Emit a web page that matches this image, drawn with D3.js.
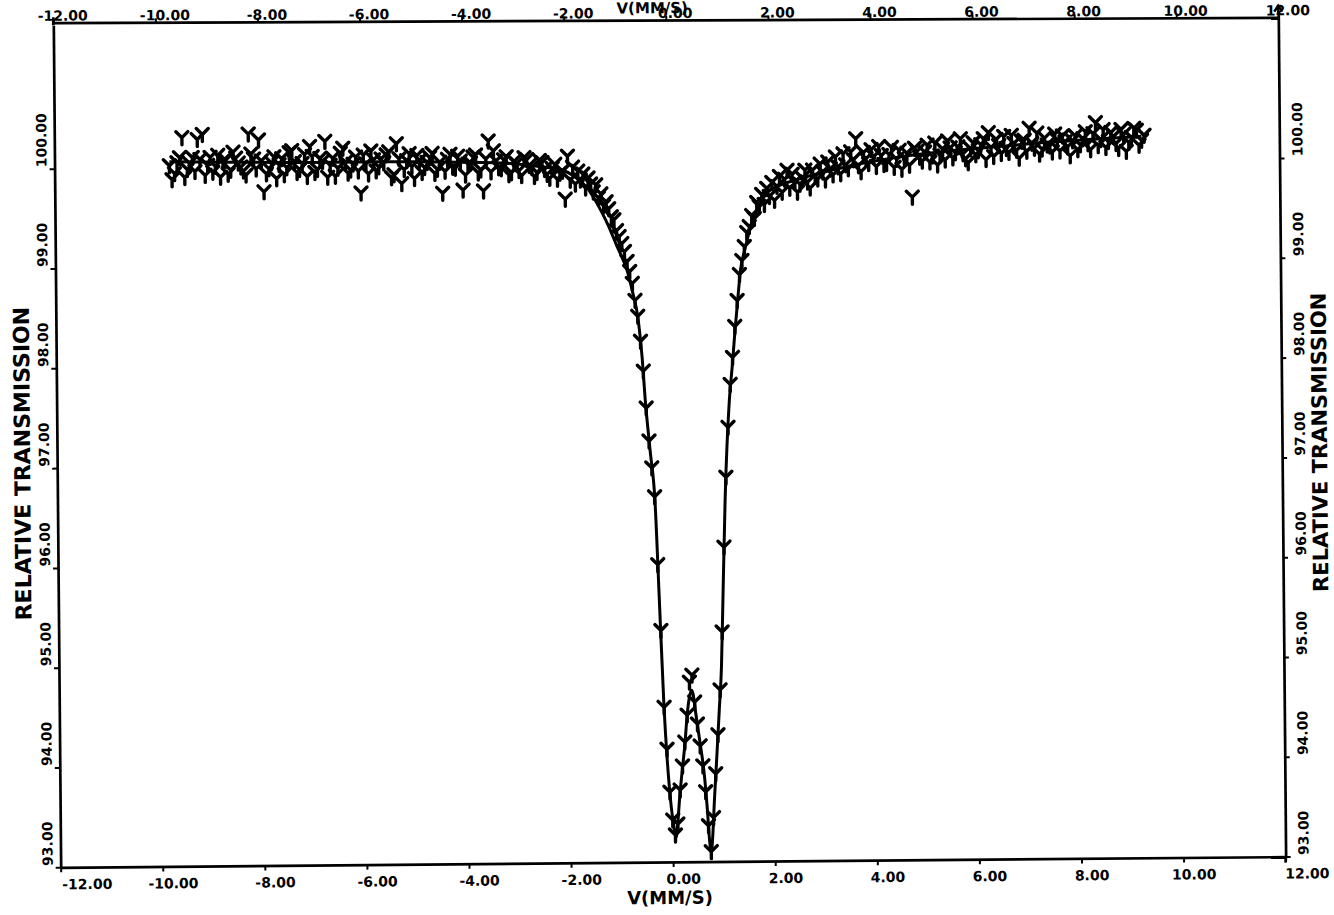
<!DOCTYPE html>
<html>
<head>
<meta charset="utf-8">
<script src="https://cdn.jsdelivr.net/npm/d3@7"></script>
<style>
body { margin: 0; background: #fff; }
text { font-family: 'DejaVu Sans', sans-serif; font-weight: bold; }
</style>
</head>
<body>
<div id="chart"></div>
<script>
// measured points, left baseline
var leftWingV = [-9.75,-9.70,-9.65,-9.60,-9.55,-9.50,-9.45,-9.40,-9.35,-9.30,
  -9.25,-9.20,-9.15,-9.10,-9.05,-9.00,-8.95,-8.90,-8.85,-8.80,
  -8.75,-8.70,-8.65,-8.60,-8.55,-8.50,-8.45,-8.40,-8.35,-8.30,
  -8.25,-8.20,-8.15,-8.10,-8.05,-8.00,-7.95,-7.90,-7.85,-7.80,
  -7.75,-7.70,-7.65,-7.60,-7.55,-7.50,-7.45,-7.40,-7.35,-7.30,
  -7.25,-7.20,-7.15,-7.10,-7.05,-7.00,-6.95,-6.90,-6.85,-6.80,
  -6.75,-6.70,-6.65,-6.60,-6.55,-6.50,-6.45,-6.40,-6.35,-6.30,
  -6.25,-6.20,-6.15,-6.10,-6.05,-6.00,-5.95,-5.90,-5.85,-5.80,
  -5.75,-5.70,-5.65,-5.60,-5.55,-5.50,-5.45,-5.40,-5.35,-5.30,
  -5.25,-5.20,-5.15,-5.10,-5.05,-5.00,-4.95,-4.90,-4.85,-4.80,
  -4.75,-4.70,-4.65,-4.60,-4.55,-4.50,-4.45,-4.40,-4.35,-4.30,
  -4.25,-4.20,-4.15,-4.10,-4.05,-4.00,-3.95,-3.90,-3.85,-3.80,
  -3.75,-3.70,-3.65,-3.60,-3.55,-3.50,-3.45,-3.40,-3.35,-3.30,
  -3.25,-3.20,-3.15,-3.10,-3.05,-3.00,-2.95,-2.90,-2.85,-2.80,
  -2.75,-2.70,-2.65,-2.60,-2.55,-2.50,-2.45,-2.40,-2.35,-2.30,
  -2.25,-2.20,-2.15,-2.10,-2.05];
var leftWingT = [100.02,99.88,99.94,100.05,100.10,100.30,99.90,99.98,100.04,100.10,
  99.96,100.28,100.08,100.33,99.92,100.02,100.10,99.95,100.01,100.12,
  99.90,100.06,100.07,99.93,99.97,100.15,100.09,100.04,100.00,99.96,
  99.92,100.33,100.13,100.08,99.98,100.27,100.06,99.75,99.93,99.98,
  100.04,100.10,99.88,100.02,100.08,99.92,99.99,100.14,100.16,100.05,
  99.94,99.97,100.03,100.12,99.90,100.20,100.10,99.94,99.97,100.08,
  100.05,100.25,99.89,100.01,100.08,99.90,99.98,100.13,100.18,100.04,
  99.93,99.96,100.02,100.09,99.95,99.73,100.11,100.02,99.92,100.15,
  100.06,99.95,99.99,100.07,100.03,100.11,100.14,99.88,99.91,100.22,
  100.07,99.82,99.96,100.05,100.12,99.99,99.87,100.10,100.05,99.93,
  99.98,100.03,100.08,100.12,99.92,99.96,100.03,99.72,99.94,100.06,
  100.11,99.98,99.97,100.09,100.04,99.75,99.90,100.01,100.02,100.08,
  100.10,99.92,99.95,99.74,100.06,100.24,99.93,100.14,100.04,99.97,
  99.96,100.05,100.08,99.90,99.92,100.03,100.01,99.94,99.89,100.07,
  100.05,99.99,99.97,99.88,99.92,100.04,100.02,99.95,99.90,99.86,
  99.96,100.00,99.85,99.91,99.93];

// measured points, doublet region
var dipV = [-2.00,-1.95,-1.90,-1.85,-1.80,-1.75,-1.70,-1.65,-1.60,-1.55,
  -1.50,-1.45,-1.40,-1.35,-1.30,-1.25,-1.20,-1.15,-1.10,-1.05,
  -1.00,-0.95,-0.90,-0.85,-0.80,-0.75,-0.70,-0.65,-0.60,-0.55,
  -0.50,-0.45,-0.40,-0.35,-0.30,-0.25,-0.20,-0.15,-0.10,-0.05,
  0.00,0.05,0.10,0.15,0.20,0.25,0.30,0.35,0.40,0.45,
  0.50,0.55,0.60,0.65,0.70,0.75,0.80,0.85,0.90,0.95,
  1.00,1.05,1.10,1.15,1.20,1.25,1.30,1.35,1.40,1.45,
  1.50,1.55,1.60,1.65,1.70,1.75,1.80,1.85,1.90,1.95,
  2.00,2.05,2.10,2.15,2.20,2.25,2.30,2.35,2.40,2.45,2.50];
var dipT = [99.65,100.08,99.84,99.97,99.80,99.93,99.84,99.90,99.76,99.86,
  99.80,99.72,99.79,99.66,99.70,99.58,99.62,99.55,99.47,99.44,
  99.33,99.27,99.20,99.12,99.02,98.92,98.80,98.63,98.47,98.22,
  97.92,97.55,97.22,96.95,96.66,95.98,95.32,94.55,94.13,93.70,
  93.42,93.27,93.38,93.72,93.96,94.20,94.47,94.80,94.87,94.60,
  94.38,94.16,93.96,93.70,93.36,93.10,93.44,93.88,94.27,94.72,
  95.30,96.15,96.85,97.35,97.78,98.05,98.36,98.62,98.88,99.02,
  99.16,99.30,99.36,99.47,99.44,99.60,99.56,99.68,99.58,99.74,
  99.66,99.80,99.62,99.76,99.86,99.70,99.83,99.92,99.74,99.88,99.80];

// measured points, right baseline
var rightWingV = [2.55,2.60,2.65,2.70,2.75,2.80,2.85,2.90,2.95,3.00,
  3.05,3.10,3.15,3.20,3.25,3.30,3.35,3.40,3.45,3.50,
  3.55,3.60,3.65,3.70,3.75,3.80,3.85,3.90,3.95,4.00,
  4.05,4.10,4.15,4.20,4.25,4.30,4.35,4.40,4.45,4.50,
  4.55,4.60,4.65,4.70,4.75,4.80,4.85,4.90,4.95,5.00,
  5.05,5.10,5.15,5.20,5.25,5.30,5.35,5.40,5.45,5.50,
  5.55,5.60,5.65,5.70,5.75,5.80,5.85,5.90,5.95,6.00,
  6.05,6.10,6.15,6.20,6.25,6.30,6.35,6.40,6.45,6.50,
  6.55,6.60,6.65,6.70,6.75,6.80,6.85,6.90,6.95,7.00,
  7.05,7.10,7.15,7.20,7.25,7.30,7.35,7.40,7.45,7.50,
  7.55,7.60,7.65,7.70,7.75,7.80,7.85,7.90,7.95,8.00,
  8.05,8.10,8.15,8.20,8.25,8.30,8.35,8.40,8.45,8.50,
  8.55,8.60,8.65,8.70,8.75,8.80,8.85,8.90,8.95,9.00,
  9.05,9.10,9.15,9.20,9.25,9.30,9.35];
var rightWingT = [99.70,99.78,99.84,99.92,99.80,99.74,99.92,99.86,99.83,99.98,
  99.90,99.82,100.00,99.93,99.87,100.05,99.95,99.88,100.08,99.97,
  99.93,100.10,100.02,100.23,99.96,99.90,100.09,100.03,99.98,100.12,
  100.05,99.95,100.15,100.06,99.97,99.98,100.07,100.14,99.94,100.02,
  100.11,99.92,100.03,100.08,99.96,99.64,100.13,100.10,100.04,100.00,
  100.09,100.16,99.99,100.05,100.18,99.96,100.06,100.12,100.01,100.20,
  100.13,100.03,100.08,100.14,100.22,100.07,100.02,99.98,100.12,100.18,
  100.06,100.10,100.16,100.22,100.01,100.28,100.13,100.04,100.21,100.15,
  100.07,100.24,100.12,100.08,100.25,100.17,100.10,100.02,100.19,100.20,
  100.09,100.32,100.17,100.12,100.27,100.06,100.11,100.22,100.15,100.14,
  100.08,100.26,100.20,100.09,100.24,100.18,100.13,100.04,100.19,100.24,
  100.10,100.15,100.21,100.28,100.16,100.10,100.26,100.37,100.14,100.20,
  100.30,100.12,100.18,100.27,100.23,100.16,100.11,100.30,100.25,100.08,
  100.17,100.22,100.31,100.29,100.14,100.19,100.24];

// fitted curve
var fitV = [-9.75,-8.5,-7.0,-5.5,-4.0,-3.0,-2.5,-2.0,-1.75,-1.55,-1.45,-1.30,-1.15,-1.00,-0.88,-0.80,
  -0.70,-0.59,-0.52,-0.47,-0.38,-0.295,-0.225,-0.157,-0.04,0.02,0.065,0.10,0.135,0.19,0.245,0.31,
  0.36,0.39,0.42,0.46,0.54,0.63,0.68,0.72,0.75,0.78,0.82,0.87,0.93,0.98,1.02,1.08,1.18,1.24,
  1.30,1.36,1.42,1.52,1.62,1.78,1.96,2.2,2.5,3.0,3.6,4.5,5.5,6.5,7.5,8.5,9.3];
var fitT = [100.06,100.05,100.04,100.04,100.03,100.01,99.98,99.93,99.85,99.75,99.67,99.53,99.37,99.18,99.04,98.93,
  98.72,98.43,98.05,97.65,97.12,96.63,95.62,94.62,93.62,93.36,93.25,93.40,93.62,93.90,94.15,94.52,
  94.68,94.72,94.68,94.52,94.22,93.85,93.52,93.20,93.09,93.25,93.62,94.02,94.52,94.95,95.62,96.62,97.62,97.95,
  98.30,98.62,98.92,99.15,99.35,99.55,99.70,99.77,99.82,99.89,99.96,100.04,100.10,100.14,100.18,100.21,100.23];

var xTicks = [-12,-10,-8,-6,-4,-2,0,2,4,6,8,10,12];
var yTicks = [93,94,95,96,97,98,99,100];

var width = 1334, height = 915;
var plotLeft = 57, plotRight = 1282, plotTop = 20, plotBottom = 862;
var pxPerUnit = 99.8;

var svg = d3.select('#chart').append('svg')
    .attr('width', width)
    .attr('height', height);

// the scanned plot is slightly tilted
var plot = svg.append('g').attr('transform', 'rotate(-0.5,667,445)');

var x = d3.scaleLinear().domain([-12, 12]).range([plotLeft, plotRight]);
var y = d3.scaleLinear()
    .domain([93, 93 + (plotBottom - plotTop) / pxPerUnit])
    .range([plotBottom, plotTop]);

var fmt = d => d.toFixed(2);

function styleAxis(g) {
    g.attr('font-family', "'DejaVu Sans', sans-serif")
     .attr('font-size', 14)
     .attr('font-weight', 'bold');
    g.select('.domain').attr('stroke', '#000').attr('stroke-width', 2.7);
    g.selectAll('.tick line').attr('stroke', '#000').attr('stroke-width', 2);
    g.selectAll('.tick text').attr('fill', '#000');
}

var bottomAxis = plot.append('g')
    .attr('transform', `translate(0,${plotBottom})`)
    .call(d3.axisBottom(x).tickValues(xTicks).tickFormat(fmt).tickSize(5).tickSizeOuter(0));
styleAxis(bottomAxis);
bottomAxis.selectAll('.tick text')
    .attr('y', 22).attr('dy', null)
    .attr('dx', d => d == -12 ? 26 : d == 12 ? 21 : 10);

// top edge of the paper sits a little less tilted
var topAxis = plot.append('g')
    .attr('transform', `translate(0,${plotTop}) rotate(0.25,667,0)`)
    .call(d3.axisTop(x).tickValues(xTicks).tickFormat(fmt).tickSize(4).tickSizeOuter(0));
styleAxis(topAxis);
topAxis.selectAll('.tick text')
    .attr('y', -2).attr('dy', null).attr('dx', 9);

var leftAxis = plot.append('g')
    .attr('transform', `translate(${plotLeft},0)`)
    .call(d3.axisLeft(y).tickValues(yTicks).tickFormat(fmt).tickSize(5).tickSizeOuter(0));
styleAxis(leftAxis);
leftAxis.selectAll('.tick text')
    .attr('x', 0).attr('dy', null)
    .attr('text-anchor', 'start')
    .attr('transform', 'translate(-8,-2) rotate(-90)');

var rightAxis = plot.append('g')
    .attr('transform', `translate(${plotRight},0)`)
    .call(d3.axisRight(y).tickValues(yTicks).tickFormat(fmt).tickSize(5).tickSizeOuter(0));
styleAxis(rightAxis);
rightAxis.selectAll('.tick text')
    .attr('x', 0).attr('dy', null)
    .attr('text-anchor', 'start')
    .attr('transform', 'translate(23,-2) rotate(-90)');

// small pen overshoots at the corners
plot.append('line').attr('x1', plotLeft).attr('x2', plotLeft).attr('y1', plotTop - 8).attr('y2', plotTop)
    .attr('stroke', '#000').attr('stroke-width', 2.7);
plot.append('line').attr('x1', plotRight).attr('x2', plotRight).attr('y1', plotTop - 8).attr('y2', plotTop)
    .attr('stroke', '#000').attr('stroke-width', 2.7);
plot.append('path').attr('d', `M${plotRight - 4},${plotTop - 3}L${plotRight},${plotTop - 9}L${plotRight + 4},${plotTop - 3}`)
    .attr('fill', 'none').attr('stroke', '#000').attr('stroke-width', 2.5);
plot.append('line').attr('x1', plotRight).attr('x2', plotRight).attr('y1', plotBottom).attr('y2', plotBottom + 6)
    .attr('stroke', '#000').attr('stroke-width', 2.7);

// axis titles
plot.append('text').attr('x', 656).attr('y', 13).attr('text-anchor', 'middle')
    .attr('font-size', 15).text('V(MM/S)');
plot.append('text').attr('x', 666).attr('y', 904).attr('text-anchor', 'middle')
    .attr('font-size', 18).text('V(MM/S)');
plot.append('text').attr('transform', 'translate(30,458) rotate(-90)').attr('text-anchor', 'middle')
    .attr('font-size', 22).text('RELATIVE TRANSMISSION');
plot.append('text').attr('transform', 'translate(1327,448) rotate(-90)').attr('text-anchor', 'middle')
    .attr('font-size', 21).text('RELATIVE TRANSMISSION');

// fitted line
var fit = d3.zip(fitV, fitT);
plot.append('path')
    .datum(fit)
    .attr('fill', 'none')
    .attr('stroke', '#000')
    .attr('stroke-width', 3)
    .attr('stroke-linejoin', 'round')
    .attr('d', d3.line().x(d => x(d[0])).y(d => y(d[1])).curve(d3.curveMonotoneX));

// data markers (Y symbols)
var points = d3.zip(leftWingV, leftWingT)
    .concat(d3.zip(dipV, dipT))
    .concat(d3.zip(rightWingV, rightWingT));

plot.append('g').selectAll('path')
    .data(points)
    .join('path')
    .attr('d', 'M-6,-6L0,0L6,-6M0,0L0,7')
    .attr('transform', d => `translate(${x(d[0])},${y(d[1])})`)
    .attr('fill', 'none')
    .attr('stroke', '#000')
    .attr('stroke-width', 3.4)
    .attr('stroke-linecap', 'round');
</script>
</body>
</html>
